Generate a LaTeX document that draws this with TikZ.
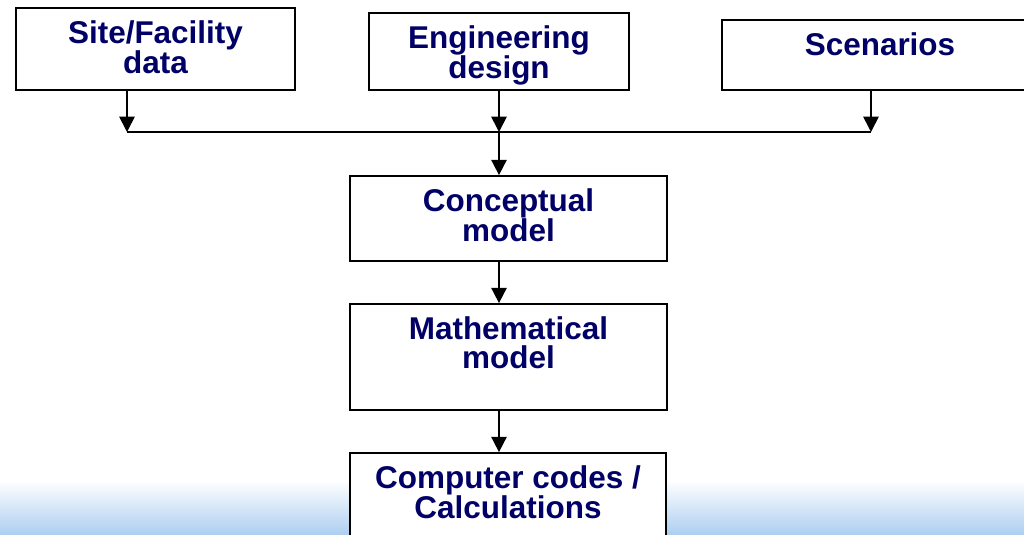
\documentclass[tikz,border=0pt]{standalone}
\usepackage{fontspec}
\setmainfont{Liberation Sans}
\usetikzlibrary{arrows.meta,positioning}
\definecolor{boxNavy}{RGB}{0,0,102}
\definecolor{skyBand}{RGB}{172,206,240}

\begin{document}
\begin{tikzpicture}[x=0.75pt,y=-0.75pt,
  stage/.style={draw=black,fill=white,line width=1.3pt,inner sep=0pt},
  stagetext/.style={anchor=north,inner sep=0pt,yshift=-9.6pt,align=center,text=boxNavy,
    font=\fontsize{23.6}{21.75}\selectfont\bfseries},
  flow/.style={line width=1.3pt,-{Triangle[width=11.5pt,length=11.5pt]}}]
\useasboundingbox (0,0) rectangle (1024,535);
\shade[top color=white,bottom color=skyBand] (0,480) rectangle (1024,535);
% input boxes
\node[stage,minimum width=209.25pt,minimum height=61.5pt,label={[stagetext]north:Site/Facility\\data}] (site) at (155.5,49) {};
\node[stage,minimum width=195pt,minimum height=57.75pt,label={[stagetext]north:Engineering\\design}] (eng) at (499,51.5) {};
\node[stage,minimum width=237pt,minimum height=52.5pt,label={[stagetext]north:Scenarios}] (scen) at (880,55) {};
% model chain
\node[stage,minimum width=237.75pt,minimum height=63.75pt,label={[stagetext]north:Conceptual\\model}] (concept) at (508.5,218.5) {};
\node[stage,minimum width=237.75pt,minimum height=79.5pt,label={[stagetext]north:Mathematical\\model}] (math) at (508.5,357) {};
\node[stage,minimum width=237pt,minimum height=71.25pt,label={[stagetext]north:Computer codes /\\Calculations}] (comp) at (508,500.5) {};
% connectors
\coordinate (siteTap) at (127,132);
\coordinate (join) at (499,132);
\coordinate (scenTap) at (871,132);
\draw[line width=1.3pt] (siteTap) -- (scenTap);
\draw[flow] (site.south -| siteTap) -- (siteTap);
\draw[flow] (eng.south) -- (join);
\draw[flow] (scen.south -| scenTap) -- (scenTap);
\draw[flow] (join) -- (concept.north -| join);
\draw[flow] (concept.south -| join) -- (math.north -| join);
\draw[flow] (math.south -| join) -- (comp.north -| join);
\end{tikzpicture}
\end{document}
